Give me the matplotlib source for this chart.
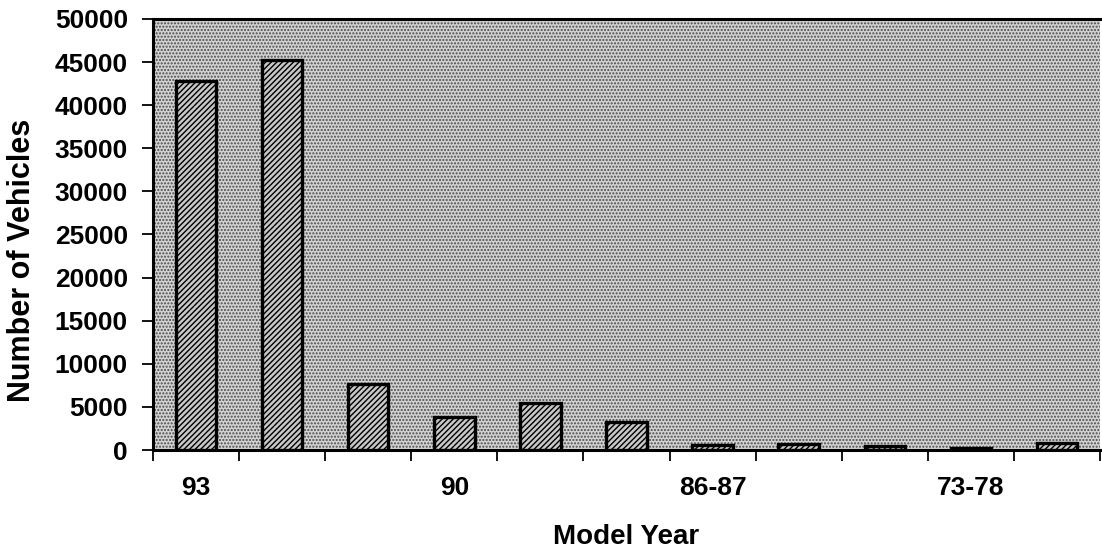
import numpy as np
import matplotlib.pyplot as plt

plt.rcParams['font.family'] = ['Liberation Sans', 'DejaVu Sans']
plt.rcParams['hatch.linewidth'] = 1.0

# vehicle counts by model year group
years = ['93', '92', '91', '90', '89', '88', '86-87', '84-85', '79-83', '73-78', 'pre-73']
counts = [42800, 45200, 7700, 3800, 5400, 3300, 600, 700, 500, 250, 800]
shown = ['93', '90', '86-87', '73-78']

fig = plt.figure(figsize=(11.02, 5.48), dpi=100)
ax = fig.add_axes([153 / 1102, 1 - 450 / 548, (1100 - 153) / 1102, (450 - 19) / 548])

# stippled plot area
ax.set_facecolor('#d2d2d2')
ax.patch.set_hatch('.....')
ax.patch.set_edgecolor('#4a4a4a')
ax.patch.set_linewidth(0)

x = np.arange(len(years))
ax.bar(x, counts, width=0.47, facecolor='#c8c8c8', edgecolor='black',
       linewidth=2.4, hatch='//////', zorder=3)

ax.set_xlim(-0.5, len(years) - 0.5)
ax.set_ylim(0, 50000)
ax.set_yticks(np.arange(0, 50001, 5000))

# ticks at the group boundaries, labels under every third group
ax.set_xticks(np.arange(-0.5, len(years), 1.0))
ax.set_xticklabels([])
ax.set_xticks([years.index(s) for s in shown], minor=True)
ax.set_xticklabels(shown, minor=True)
ax.tick_params(axis='x', which='minor', length=0, pad=19)
ax.tick_params(axis='x', which='major', length=8, width=1.3, direction='out')
ax.tick_params(axis='y', length=8, width=1.3, direction='out', pad=10)
for lab in ax.get_xticklabels(minor=True) + ax.get_yticklabels():
    lab.set_fontsize(19)
    lab.set_fontweight('bold')

for side in ['top', 'left', 'bottom']:
    ax.spines[side].set_linewidth(2.2)
ax.spines['right'].set_visible(False)

ax.set_ylabel('Number of Vehicles', fontsize=22, fontweight='bold')
ax.yaxis.set_label_coords(-0.138, 0.44)
ax.yaxis.label.set_va('center')
ax.set_xlabel('Model Year', fontsize=20, fontweight='bold')
ax.xaxis.set_label_coords(0.5, -0.172)
ax.xaxis.label.set_va('top')

fig.savefig('out.png', dpi=100)
